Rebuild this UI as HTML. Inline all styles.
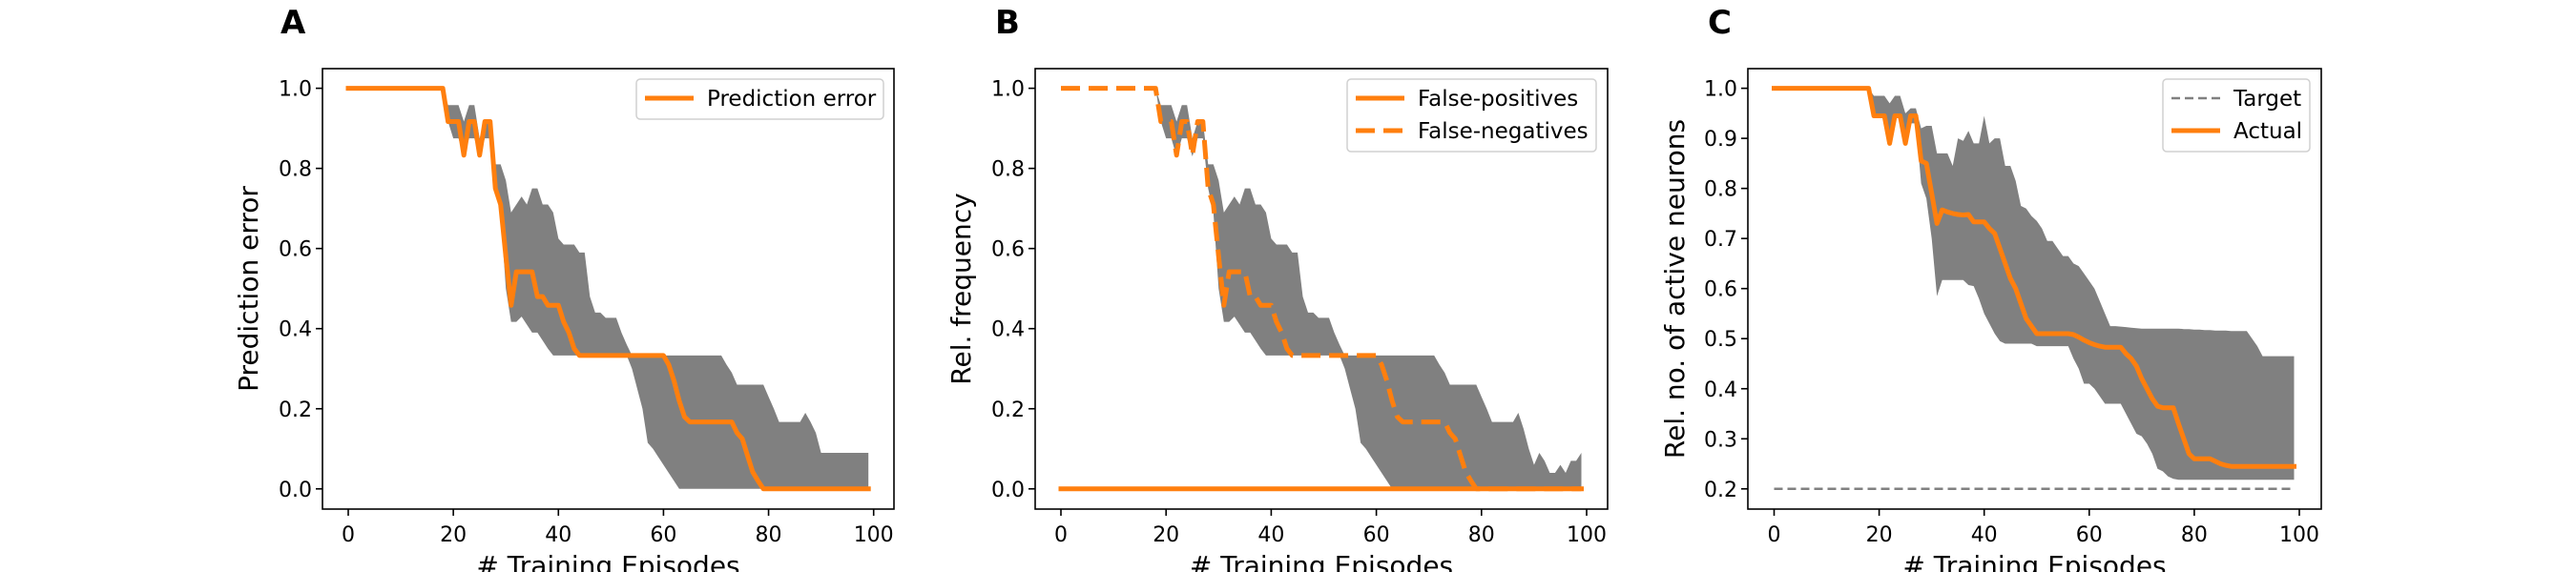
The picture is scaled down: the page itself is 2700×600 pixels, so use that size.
<!DOCTYPE html>
<html><head><meta charset="utf-8"><style>
html,body{margin:0;padding:0;background:#fff}
svg{display:block}
text{font-family:"DejaVu Sans","Liberation Sans",sans-serif;fill:#000}
</style></head><body>
<svg id="fig" width="2700" height="600" viewBox="0 0 2700 600" xmlns="http://www.w3.org/2000/svg"></svg>
<script>
// ---------- data ----------
const episodes = Array.from({length:100},(_,i)=>i);
const xTicks = [0,20,40,60,80,100];
const yTicksAB = [0.0,0.2,0.4,0.6,0.8,1.0];
const yTicksC = [0.2,0.3,0.4,0.5,0.6,0.7,0.8,0.9,1.0];

const predMean = [1,1,1,1,1,1,1,1,1,1,1,1,1,1,1,1,1,1,1,0.917,0.917,0.917,0.833,0.917,0.917,0.833,0.917,0.917,0.75,0.71,0.58,0.458,0.542,0.542,0.542,0.542,0.48,0.48,0.458,0.458,0.458,0.417,0.39,0.35,0.333,0.333,0.333,0.333,0.333,0.333,0.333,0.333,0.333,0.333,0.333,0.333,0.333,0.333,0.333,0.333,0.333,0.31,0.27,0.22,0.18,0.167,0.167,0.167,0.167,0.167,0.167,0.167,0.167,0.167,0.14,0.125,0.083,0.042,0.02,0,0,0,0,0,0,0,0,0,0,0,0,0,0,0,0,0,0,0,0,0];
const predUpper = [1,1,1,1,1,1,1,1,1,1,1,1,1,1,1,1,1,1,1,0.958,0.958,0.958,0.917,0.958,0.958,0.875,0.917,0.917,0.81,0.81,0.77,0.69,0.71,0.73,0.71,0.75,0.75,0.71,0.71,0.69,0.625,0.61,0.61,0.61,0.59,0.59,0.48,0.44,0.44,0.427,0.427,0.427,0.39,0.36,0.333,0.333,0.333,0.333,0.333,0.333,0.333,0.333,0.333,0.333,0.333,0.333,0.333,0.333,0.333,0.333,0.333,0.333,0.31,0.29,0.26,0.26,0.26,0.26,0.26,0.26,0.23,0.2,0.167,0.167,0.167,0.167,0.167,0.19,0.167,0.14,0.09,0.09,0.09,0.09,0.09,0.09,0.09,0.09,0.09,0.09];
const predLower = [1,1,1,1,1,1,1,1,1,1,1,1,1,1,1,1,1,1,1,0.917,0.875,0.875,0.83,0.875,0.875,0.83,0.875,0.875,0.75,0.69,0.5,0.417,0.417,0.43,0.41,0.39,0.39,0.37,0.35,0.333,0.333,0.333,0.333,0.333,0.333,0.333,0.333,0.333,0.333,0.333,0.333,0.333,0.333,0.333,0.3,0.25,0.2,0.115,0.1,0.08,0.06,0.04,0.02,0,0,0,0,0,0,0,0,0,0,0,0,0,0,0,0,0,0,0,0,0,0,0,0,0,0,0,0,0,0,0,0,0,0,0,0,0];

const fnMean = predMean.slice();
const fpMean = episodes.map(()=>0);
const freqUpper = predUpper.slice(0,87).concat([0.19,0.15,0.1,0.06,0.09,0.07,0.04,0.04,0.06,0.04,0.07,0.07,0.09]);
const freqLower = predLower.slice();

const actMean = [1,1,1,1,1,1,1,1,1,1,1,1,1,1,1,1,1,1,1,0.945,0.945,0.945,0.89,0.945,0.945,0.89,0.945,0.945,0.855,0.85,0.79,0.73,0.757,0.753,0.75,0.748,0.747,0.748,0.733,0.733,0.733,0.72,0.71,0.68,0.65,0.62,0.6,0.57,0.54,0.525,0.51,0.51,0.51,0.51,0.51,0.51,0.51,0.508,0.503,0.497,0.492,0.488,0.485,0.483,0.483,0.483,0.483,0.47,0.46,0.445,0.42,0.4,0.38,0.365,0.362,0.362,0.362,0.33,0.3,0.27,0.26,0.26,0.26,0.26,0.255,0.25,0.247,0.245,0.245,0.245,0.245,0.245,0.245,0.245,0.245,0.245,0.245,0.245,0.245,0.245];
const actUpper = [1,1,1,1,1,1,1,1,1,1,1,1,1,1,1,1,1,1,1,0.985,0.985,0.985,0.97,0.985,0.985,0.95,0.96,0.96,0.92,0.925,0.925,0.87,0.87,0.87,0.845,0.9,0.895,0.915,0.89,0.89,0.945,0.89,0.9,0.9,0.845,0.845,0.815,0.765,0.76,0.745,0.735,0.72,0.695,0.695,0.68,0.665,0.665,0.65,0.645,0.63,0.615,0.6,0.575,0.55,0.525,0.525,0.524,0.523,0.522,0.521,0.52,0.52,0.52,0.52,0.52,0.52,0.52,0.52,0.519,0.519,0.518,0.518,0.517,0.517,0.516,0.516,0.516,0.515,0.515,0.515,0.515,0.5,0.485,0.465,0.465,0.465,0.465,0.465,0.465,0.465];
const actLower = [1,1,1,1,1,1,1,1,1,1,1,1,1,1,1,1,1,1,1,0.945,0.945,0.945,0.89,0.945,0.945,0.89,0.93,0.93,0.81,0.78,0.7,0.585,0.617,0.617,0.617,0.617,0.617,0.607,0.605,0.58,0.55,0.53,0.51,0.495,0.49,0.49,0.49,0.49,0.49,0.49,0.485,0.485,0.485,0.485,0.485,0.485,0.485,0.46,0.44,0.41,0.41,0.4,0.385,0.37,0.37,0.37,0.37,0.35,0.33,0.31,0.305,0.29,0.27,0.24,0.235,0.225,0.22,0.218,0.218,0.218,0.218,0.218,0.218,0.218,0.218,0.218,0.218,0.218,0.218,0.218,0.218,0.218,0.218,0.218,0.218,0.218,0.218,0.218,0.218,0.218];
const targetVal = 0.2;

// ---------- drawing ----------
const NS="http://www.w3.org/2000/svg";
const svg=document.getElementById('fig');
function mk(tag,attrs,parent){const e=document.createElementNS(NS,tag);for(const k in attrs)e.setAttribute(k,attrs[k]);(parent||svg).appendChild(e);return e;}
const ORANGE="#ff7f0e", GREY="#808080";
const AX_TOP=72, AX_BOT=534, Y_HI=92.6, Y_LO=512.8;

function panel(cfg){
  const g=mk('g',{});
  
  
  const sx=v=>cfg.x0+(v-0)*(cfg.x100-cfg.x0)/100;
  const sy=v=>Y_LO-(v-cfg.ymin)*(Y_LO-Y_HI)/(cfg.ymax-cfg.ymin);
  const L=mk('text',{x:cfg.letterX,y:35,'font-size':34,'font-weight':'bold'},g);
  L.textContent=cfg.letter;
  
  
  if(cfg.upper){
    let d='';
    episodes.forEach((e,i)=>{d+=(i?'L':'M')+sx(e).toFixed(1)+','+sy(cfg.upper[i]).toFixed(1);});
    for(let i=episodes.length-1;i>=0;i--){d+='L'+sx(episodes[i]).toFixed(1)+','+sy(cfg.lower[i]).toFixed(1);}
    const band=mk('path',{d:d+'Z',fill:GREY,stroke:'none'},g);
    
    
  }
  cfg.series.forEach(s=>{
    let d='';
    episodes.forEach((e,i)=>{d+=(i?'L':'M')+sx(e).toFixed(1)+','+sy(s.vals[i]).toFixed(1);});
    const p=mk('path',{d:d,fill:'none',stroke:s.color,'stroke-width':s.w,'stroke-linejoin':'round','stroke-linecap':s.dash?'butt':'square'},g);
    if(s.dash)p.setAttribute('stroke-dasharray',s.dash);
    
    
  });
  const fr=mk('rect',{x:cfg.left,y:AX_TOP,width:cfg.right-cfg.left,height:AX_BOT-AX_TOP,fill:'none',stroke:'#000','stroke-width':1.6},g);
  
  
  xTicks.forEach(t=>{
    const x=sx(t);
    mk('line',{x1:x,y1:AX_BOT,x2:x,y2:AX_BOT+7,stroke:'#000','stroke-width':1.6},g);
    const tx=mk('text',{x:x,y:568,'font-size':22,'text-anchor':'middle'},g);
    tx.textContent=t;
    
    
  });
  cfg.yTicks.forEach(t=>{
    const y=sy(t);
    mk('line',{x1:cfg.left-7,y1:y,x2:cfg.left,y2:y,stroke:'#000','stroke-width':1.6},g);
    const ty=mk('text',{x:cfg.left-11,y:y+8,'font-size':22,'text-anchor':'end'},g);
    ty.textContent=t.toFixed(1);
    
    
  });
  const xl=mk('text',{x:(cfg.left+cfg.right)/2,y:603,'font-size':28,'text-anchor':'middle'},g);
  xl.textContent='# Training Episodes';
  
  
  const yl=mk('text',{x:0,y:0,'font-size':28,'text-anchor':'middle',transform:`translate(${cfg.ylabX},303) rotate(-90)`},g);
  yl.textContent=cfg.ylabel;
  
  
  const lg=mk('g',{},g);
  
  
  mk('rect',{x:cfg.leg.x,y:83,width:cfg.leg.w,height:cfg.leg.entries.length*34+8,rx:4,fill:'#fff','fill-opacity':0.8,stroke:'#d0d0d0','stroke-width':1.5},lg);
  cfg.leg.entries.forEach((en,i)=>{
    const y=103+i*34;
    const ln=mk('line',{x1:cfg.leg.x+9,y1:y,x2:cfg.leg.x+60,y2:y,stroke:en.color,'stroke-width':en.w},lg);
    if(en.dash)ln.setAttribute('stroke-dasharray',en.dash);
    const t=mk('text',{x:cfg.leg.x+74,y:y+8,'font-size':23},lg);
    t.textContent=en.label;
    
    
  });
}

panel({name:'panel-a-prediction-error',letter:'A',letterX:294,left:338,right:937,x0:365,x100:915.7,ymin:0,ymax:1,yTicks:yTicksAB,
  ylabel:'Prediction error',ylabX:270,upper:predUpper,lower:predLower,
  series:[{id:'prediction-error-line',vals:predMean,color:ORANGE,w:5}],
  leg:{x:667,w:259,entries:[{label:'Prediction error',color:ORANGE,w:5}]}});
panel({name:'panel-b-rel-frequency',letter:'B',letterX:1043,left:1085,right:1685,x0:1112,x100:1663,ymin:0,ymax:1,yTicks:yTicksAB,
  ylabel:'Rel. frequency',ylabX:1017,upper:freqUpper,lower:freqLower,
  series:[{id:'false-negatives-line',vals:fnMean,color:ORANGE,w:5,dash:'20 9'},{id:'false-positives-line',vals:fpMean,color:ORANGE,w:5}],
  leg:{x:1412,w:261,entries:[{label:'False-positives',color:ORANGE,w:5},{label:'False-negatives',color:ORANGE,w:5,dash:'20 9'}]}});
panel({name:'panel-c-active-neurons',letter:'C',letterX:1790,left:1832,right:2433,x0:1859.5,x100:2410,ymin:0.2,ymax:1,yTicks:yTicksC,
  ylabel:'Rel. no. of active neurons',ylabX:1765,upper:actUpper,lower:actLower,
  series:[{id:'target-line',vals:episodes.map(()=>targetVal),color:GREY,w:2.5,dash:'9 5'},{id:'actual-line',vals:actMean,color:ORANGE,w:5}],
  leg:{x:2267,w:154,entries:[{label:'Target',color:GREY,w:2.5,dash:'9 5'},{label:'Actual',color:ORANGE,w:5}]}});
</script>
</body></html>
